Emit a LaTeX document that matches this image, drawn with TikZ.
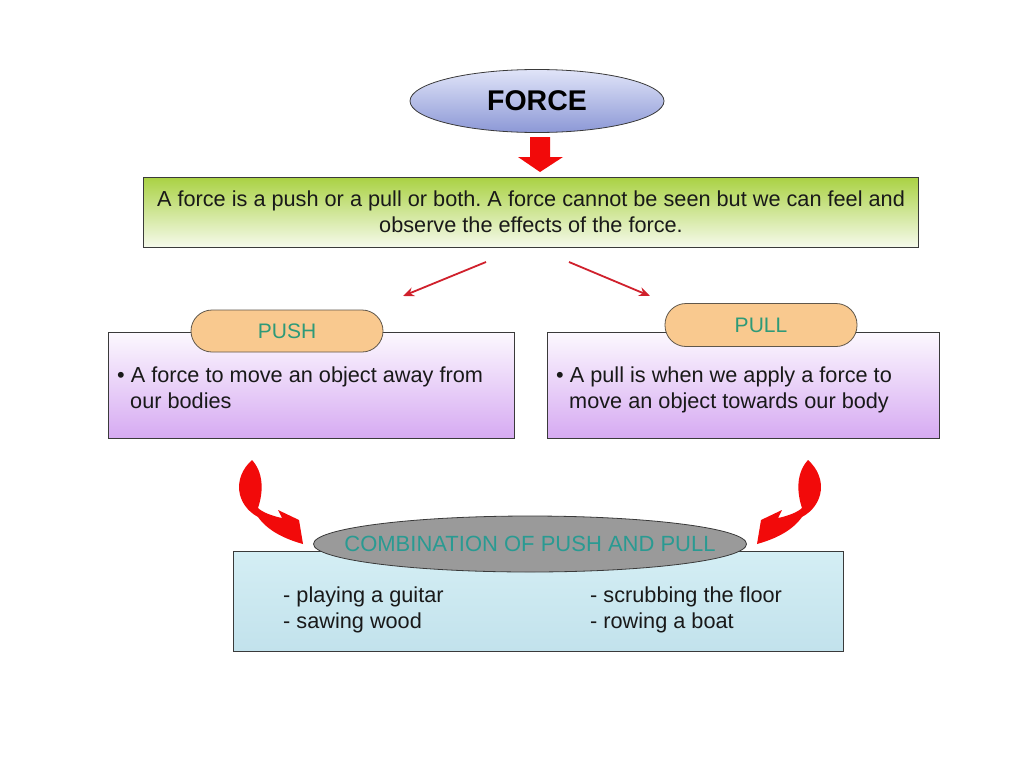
\documentclass[tikz,border=0pt]{standalone}
\usepackage{fontspec}
\setmainfont{Liberation Sans}
\frenchspacing
\usetikzlibrary{shapes.geometric,arrows.meta}
\definecolor{arrred}{HTML}{F20A0A}
\definecolor{thinred}{HTML}{D0202C}
\definecolor{edge}{HTML}{3A3A3A}
\definecolor{tealtxt}{HTML}{2E9A78}
\definecolor{combotxt}{HTML}{2A9A92}
\definecolor{peach}{HTML}{F9C98F}
\definecolor{forcetop}{RGB}{224,228,248}
\definecolor{forcebot}{RGB}{140,152,214}
\definecolor{greentop}{RGB}{170,210,68}
\definecolor{greenbot}{RGB}{246,250,236}
\definecolor{lilactop}{RGB}{252,248,254}
\definecolor{lilacbot}{RGB}{214,170,242}
\definecolor{cyantop}{RGB}{212,238,244}
\definecolor{cyanbot}{RGB}{194,226,236}
\definecolor{ovalgray}{RGB}{154,154,154}
\tikzset{
  box/.style={draw=edge, line width=0.8pt, inner sep=0pt, anchor=north west},
  pill/.style={draw=edge!80!peach, line width=0.8pt, fill=peach, rounded corners=21pt, inner sep=0pt, font=\fontsize{21}{24}\selectfont, text=tealtxt},
  body/.style={font=\fontsize{21.7}{25.5}\selectfont, text=black!90, inner sep=0pt},
  thin/.style={draw=thinred, line width=1.8pt, -{Stealth[length=11pt,width=9pt]}},
  bigred/.style={fill=arrred, draw=none}
}
\begin{document}
\begin{tikzpicture}[x=1pt,y=-1pt]
\useasboundingbox (0,0) rectangle (1024,768);
\fill[white] (0,0) rectangle (1024,768);

% FORCE ellipse
\node[ellipse, draw=edge, line width=0.8pt, minimum width=254pt, minimum height=63pt, inner sep=0pt,
      top color=forcetop, bottom color=forcebot,
      font=\fontsize{28.5}{30}\selectfont\bfseries] (force) at (537,101) {FORCE};

% block arrow down
\path[bigred] (530,137) -- (550,137) -- (550,157) -- (563,157) -- (540,172) -- (518,157) -- (530,157) -- cycle;

% definition box
\node[box, minimum width=775pt, minimum height=70pt,
      top color=greentop, bottom color=greenbot] (def) at (143,177) {};
\node[body, align=center, anchor=base] (deftxt) at (531,232)
  {A force is a push or a pull or both. A force cannot be seen but we can feel and\\observe the effects of the force.};

% thin arrows
\coordinate (l1) at (486,262); \coordinate (l2) at (403,296);
\coordinate (r1) at (569,262); \coordinate (r2) at (650,296);
\draw[thin] (l1) -- (l2);
\draw[thin] (r1) -- (r2);

% PUSH box
\node[box, minimum width=406pt, minimum height=106pt,
      top color=lilactop, bottom color=lilacbot] (push) at (108,332) {};
\node[pill, minimum width=192pt, minimum height=42pt] (pushlbl) at (287,331) {PUSH};
\node[body, align=left, anchor=base west] (pushtxt) at (117,408)
  {• A force to move an object away from\\\hspace*{13pt}our bodies};

% PULL box
\node[box, minimum width=392pt, minimum height=106pt,
      top color=lilactop, bottom color=lilacbot] (pull) at (547,332) {};
\node[pill, minimum width=192pt, minimum height=43pt] (pulllbl) at (761,325) {PULL};
\node[body, align=left, anchor=base west] (pulltxt) at (556,408)
  {• A pull is when we apply a force to\\\hspace*{13pt}move an object towards our body};

% combination box
\node[box, minimum width=610pt, minimum height=100pt,
      top color=cyantop, bottom color=cyanbot] (combo) at (233,551) {};
\node[ellipse, draw=edge, line width=0.8pt, fill=ovalgray, minimum width=433pt, minimum height=56pt, inner sep=0pt] (combolbl) at (530,544) {};
\node[font=\fontsize{22}{24}\selectfont, text=combotxt, inner sep=0pt] (combotxt) at (combolbl) {COMBINATION OF PUSH AND PULL};
\node[body, align=left, anchor=base west] (list1) at (283,628) {- playing a guitar\\- sawing wood};
\node[body, align=left, anchor=base west] (list2) at (590,628) {- scrubbing the floor\\- rowing a boat};

% curly arrows
\path[bigred] (252,460) .. controls (232,478) and (236,505) .. (258,517)
  .. controls (268,531) and (285,539) .. (303,544)
  -- (299,520) -- (278,510) -- (282,518)
  .. controls (272,516) and (262,512) .. (258,508)
  .. controls (264,490) and (263,472) .. (252,460) -- cycle;
\begin{scope}[xshift=1060pt, xscale=-1]
\path[bigred] (252,460) .. controls (232,478) and (236,505) .. (258,517)
  .. controls (268,531) and (285,539) .. (303,544)
  -- (299,520) -- (278,510) -- (282,518)
  .. controls (272,516) and (262,512) .. (258,508)
  .. controls (264,490) and (263,472) .. (252,460) -- cycle;
\end{scope}
\end{tikzpicture}
\end{document}
